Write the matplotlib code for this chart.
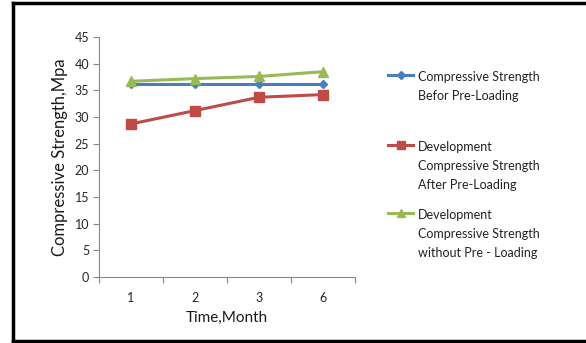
import matplotlib.pyplot as plt
from matplotlib.lines import Line2D

plt.rcParams['font.family'] = ['Lato', 'DejaVu Sans']

months = ['1', '2', '3', '6']
before_preload = [36.2, 36.2, 36.2, 36.2]
after_preload = [28.7, 31.2, 33.7, 34.2]
without_preload = [36.7, 37.2, 37.6, 38.5]

labels = [
    'Compressive Strength\nBefor Pre-Loading',
    'Development\nCompressive Strength\nAfter Pre-Loading',
    'Development\nCompressive Strength\nwithout Pre - Loading',
]
colors = ['#4A7EBB', '#BE4B48', '#98B954']
markers = ['D', 's', '^']
msizes = [4.5, 7, 7.5]
leg_msizes = [4, 5.5, 6]

fig = plt.figure(figsize=(5.86, 3.43), dpi=100)
ax = fig.add_axes([99 / 586, 1 - 277 / 343, 256 / 586, 240 / 343])

x = list(range(1, len(months) + 1))
series = [before_preload, after_preload, without_preload]
for ys, c, m, ms in zip(series, colors, markers, msizes):
    ax.plot(x, ys, color=c, marker=m, markersize=ms, linewidth=2.2)

ax.set_xlim(0.5, len(months) + 0.5)
ax.set_ylim(0, 45)
ax.set_yticks(range(0, 46, 5))
ax.set_xticks([i + 0.5 for i in range(0, len(months) + 1)])
ax.set_xticklabels([])
ax.set_xticks(x, minor=True)
ax.set_xticklabels(months, minor=True)
ax.tick_params(axis='x', which='minor', length=0, pad=11, labelsize=9, colors='#262626')
ax.tick_params(axis='x', which='major', length=4, direction='out', color='#888888')
ax.tick_params(axis='y', length=4, direction='out', color='#888888', labelsize=9,
               labelcolor='#262626', pad=3)
for side in ['top', 'right']:
    ax.spines[side].set_visible(False)
for side in ['left', 'bottom']:
    ax.spines[side].set_color('#888888')
ax.set_xlabel('Time,Month', fontsize=11, labelpad=5, color='#1a1a1a')
ax.set_ylabel('Compressive Strength,Mpa', fontsize=12, labelpad=5, color='#1a1a1a')

# legend drawn by hand, Excel style
entry_y = [75, 145, 213]
for lab, c, m, ms, y0 in zip(labels, colors, markers, leg_msizes, entry_y):
    yf = 1 - y0 / 343
    fig.add_artist(Line2D([388 / 586, 413 / 586], [yf, yf], color=c, linewidth=2.2))
    fig.add_artist(Line2D([400.5 / 586], [yf], color=c, marker=m, markersize=ms))
    fig.text(418 / 586, 1 - (y0 - 4) / 343, lab, fontsize=9, va='top', ha='left',
             color='#222222', linespacing=1.72, transform=fig.transFigure)

# outer frame (left, top, bottom)
frame_kw = dict(color='black', linewidth=2.5)
fig.add_artist(Line2D([13 / 586, 13 / 586], [1 - 3 / 343, 1 - 341 / 343], **frame_kw))
fig.add_artist(Line2D([13 / 586, 1], [1 - 3 / 343, 1 - 3 / 343], **frame_kw))
fig.add_artist(Line2D([13 / 586, 1], [1 - 341 / 343, 1 - 341 / 343], **frame_kw))

fig.savefig('out.png', dpi=100)
